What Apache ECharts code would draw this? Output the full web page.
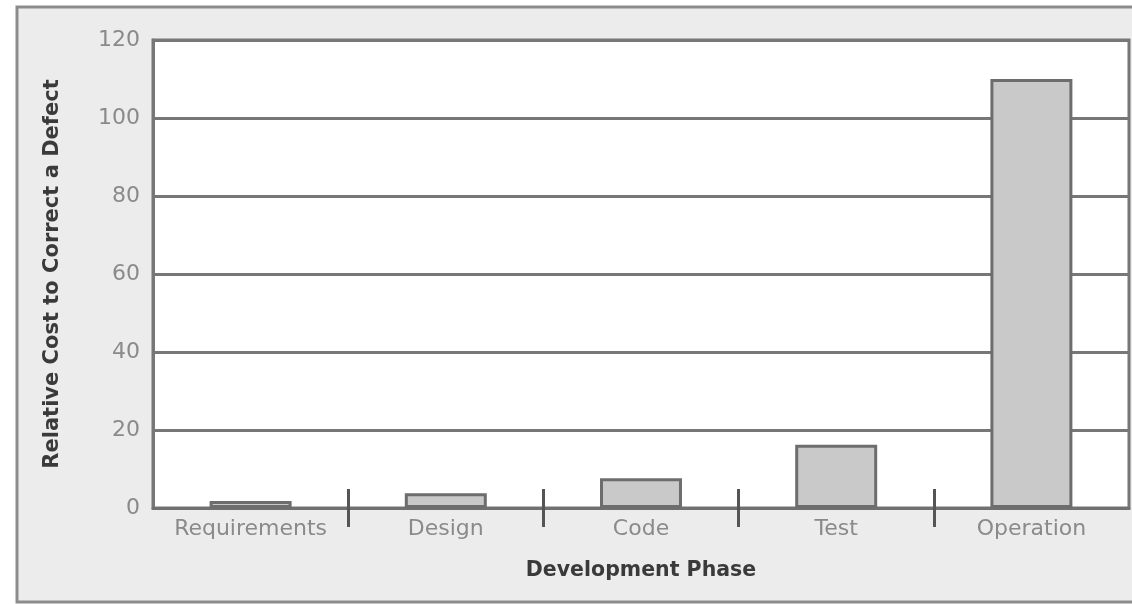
<!DOCTYPE html>
<html>
<head>
<meta charset="utf-8">
<title>Relative Cost to Correct a Defect</title>
<script src="https://cdn.jsdelivr.net/npm/echarts@6/dist/echarts.min.js"></script>
<style>
  html, body { margin: 0; padding: 0; background: #ffffff; }
  #chart { width: 1132px; height: 604px; }
</style>
</head>
<body>
<div id="chart"></div>
<script>
// Development phases along the x axis
const phases = ['Requirements', 'Design', 'Code', 'Test', 'Operation'];
// Relative cost of fixing a defect found in each phase
const relativeCost = [1.8, 3.8, 7.6, 16.2, 110];
// Value axis range and step
const yMin = 0;
const yMax = 120;
const yStep = 20;

// Separator marks sit on the boundaries between neighbouring phases
const separatorPositions = phases.slice(1).map((_, i) => i + 1);

const labelFont = 'DejaVu Sans';
const chart = echarts.init(document.getElementById('chart'), null, { renderer: 'canvas' });

chart.setOption({
  animation: false,
  backgroundColor: '#ffffff',
  graphic: [{
    type: 'rect',
    z: -10,
    silent: true,
    shape: { x: 17, y: 7, width: 1200, height: 595 },
    style: { fill: '#ececec', stroke: '#8c8c8c', lineWidth: 3 }
  }],
  grid: {
    left: 153, right: 3, top: 40, bottom: 96,
    show: true,
    backgroundColor: '#ffffff',
    borderColor: '#777777',
    borderWidth: 3
  },
  xAxis: [{
    type: 'category',
    data: phases,
    position: 'bottom',
    axisLine: { show: true, lineStyle: { color: '#707070', width: 3 } },
    axisTick: { show: false },
    axisLabel: {
      interval: 0,
      hideOverlap: false,
      color: '#8a8a8a', fontFamily: labelFont, fontSize: 22, margin: 10
    },
    name: 'Development Phase',
    nameLocation: 'middle',
    nameGap: 52,
    nameTextStyle: { color: '#3a3a3a', fontFamily: labelFont, fontWeight: 'bold', fontSize: 20.5 }
  }, {
    // phase separators crossing the baseline
    type: 'value',
    min: 0,
    max: phases.length,
    interval: 1,
    position: 'bottom',
    offset: -19,
    axisLine: { show: false },
    axisLabel: { show: false },
    splitLine: { show: false },
    axisTick: {
      show: true,
      customValues: separatorPositions,
      length: 38,
      lineStyle: { color: '#555555', width: 3 }
    }
  }],
  yAxis: {
    type: 'value',
    min: yMin,
    max: yMax,
    interval: yStep,
    axisLine: { show: true, lineStyle: { color: '#777777', width: 3 } },
    axisTick: { show: false },
    splitLine: { show: true, lineStyle: { color: '#777777', width: 3 } },
    axisLabel: { color: '#8a8a8a', fontFamily: labelFont, fontSize: 22, margin: 13 },
    name: 'Relative Cost to Correct a Defect',
    nameLocation: 'middle',
    nameRotate: 90,
    nameGap: 90,
    nameTextStyle: { color: '#3a3a3a', fontFamily: labelFont, fontWeight: 'bold', fontSize: 21 }
  },
  series: [{
    type: 'bar',
    xAxisIndex: 0,
    data: relativeCost,
    barWidth: '42%',
    itemStyle: { color: '#c9c9c9', borderColor: '#6d6d6d', borderWidth: 3 }
  }]
});
</script>
</body>
</html>
